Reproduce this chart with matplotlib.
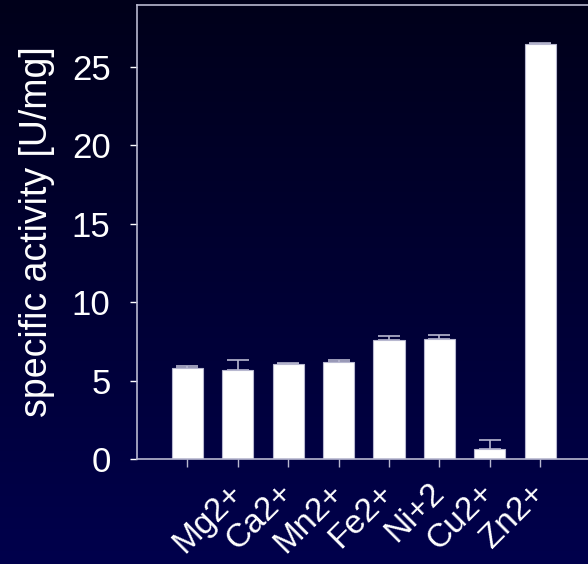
import matplotlib.pyplot as plt
import numpy as np

ions = ['', 'Mg2+', 'Ca2+', 'Mn2+', 'Fe2+', 'Ni+2', 'Cu2+', 'Zn2+']
activity = [5.82, 5.70, 6.04, 6.21, 7.61, 7.67, 0.66, 26.45]
errors = [0.10, 0.60, 0.08, 0.10, 0.23, 0.26, 0.55, 0.07]
yticks = [0, 5, 10, 15, 20, 25]

plt.rcParams['font.family'] = ['Liberation Sans', 'DejaVu Sans']
fg = '#ffffff'
edge = '#b8b8d0'

fig = plt.figure(figsize=(5.88, 5.64), dpi=100)

# navy gradient behind everything
bg = fig.add_axes([0, 0, 1, 1], zorder=-1)
grad = np.linspace(0, 1, 256).reshape(-1, 1)
top = np.array([0, 0, 26]) / 255
bottom = np.array([0, 0, 76]) / 255
img = top + (bottom - top) * grad[:, :, None]
bg.imshow(img, aspect='auto', extent=[0, 1, 0, 1])
bg.axis('off')

ax = fig.add_axes([137 / 588, 1 - 459 / 564, 1 - 137 / 588, 454 / 564])
ax.patch.set_alpha(0)

x = np.arange(1, len(activity) + 1)
ax.bar(x, activity, width=0.62, color='white', edgecolor=edge, linewidth=0.8)
ax.errorbar(x, activity, yerr=[np.zeros(len(errors)), errors], fmt='none',
            ecolor=edge, elinewidth=1.2, capsize=8, capthick=1.2)

ax.set_xlim(0, 8.95)
ax.set_ylim(0, 28.95)
ax.set_yticks(yticks)
ax.set_xticks(x)
ax.set_xticklabels(ions, rotation=45, ha='right', va='center',
                   rotation_mode='anchor', fontsize=24, color=fg)
ax.tick_params(axis='y', colors=fg, labelsize=25, length=5, width=1, pad=14)
ax.tick_params(axis='x', colors=edge, length=6, width=1, pad=15)
for lbl in ax.get_xticklabels():
    lbl.set_color(fg)

ax.set_ylabel('specific activity [U/mg]', color=fg, fontsize=27, labelpad=12)

for s in ['left', 'top', 'bottom']:
    ax.spines[s].set_color(edge)
    ax.spines[s].set_linewidth(1.2)
ax.spines['right'].set_visible(False)

fig.savefig('out.png', dpi=100)
